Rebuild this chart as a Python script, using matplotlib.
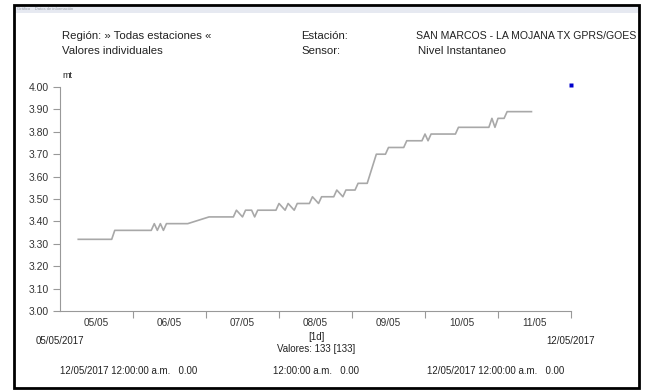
import numpy as np
import pandas as pd
import matplotlib
matplotlib.use("Agg")
import matplotlib.pyplot as plt
from matplotlib.patches import Rectangle

plt.rcParams['font.family'] = ['Liberation Sans', 'DejaVu Sans']

# nivel instantaneo, horas desde 05/05/2017 00:00
hours = [6, 17, 18, 30, 31, 32, 33, 34, 35, 42, 49, 57, 58, 60, 61, 63, 64, 65,
         71, 72, 74, 75, 77, 78, 82, 83, 85, 86, 90, 91, 93, 94, 97, 98, 101,
         104, 107, 108, 113, 114, 119, 120, 121, 122, 130, 131, 141, 142, 143,
         144, 146, 147, 155]
level = [3.32, 3.32, 3.36, 3.36, 3.39, 3.36, 3.39, 3.36, 3.39, 3.39, 3.42, 3.42,
         3.45, 3.42, 3.45, 3.45, 3.42, 3.45, 3.45, 3.48, 3.45, 3.48, 3.45, 3.48,
         3.48, 3.51, 3.48, 3.51, 3.51, 3.54, 3.51, 3.54, 3.54, 3.57, 3.57, 3.70,
         3.70, 3.73, 3.73, 3.76, 3.76, 3.79, 3.76, 3.79, 3.79, 3.82, 3.82, 3.86,
         3.82, 3.86, 3.86, 3.89, 3.89]
point_hour = [168]
point_level = [4.01]

day_labels = ['05/05', '06/05', '07/05', '08/05', '09/05', '10/05', '11/05']
yticks = [3.00, 3.10, 3.20, 3.30, 3.40, 3.50, 3.60, 3.70, 3.80, 3.90, 4.00]

t0 = pd.Timestamp('2017-05-05')
t = t0 + pd.to_timedelta(hours, unit='h')
tp = t0 + pd.to_timedelta(point_hour, unit='h')

W, H = 649, 390
fig = plt.figure(figsize=(W / 100, H / 100), dpi=100)
ax = fig.add_axes([60 / W, 1 - 311 / H, 511 / W, 224 / H])

ax.plot(t, level, color='#a8a8a8', lw=1.2)
ax.plot(tp, point_level, 's', color='#0000cc', ms=2.8, mec='none', clip_on=False)

ax.set_xlim(t0, t0 + pd.Timedelta(days=7))
ax.set_ylim(3.0, 4.0)
ax.set_yticks(yticks)
ax.set_yticklabels(['%.2f' % v for v in yticks])

major = [t0 + pd.Timedelta(days=i) for i in range(1, 8)]
minor = [t0 + pd.Timedelta(days=i, hours=12) for i in range(7)]
ax.set_xticks(major)
ax.set_xticklabels([''] * len(major))
ax.set_xticks(minor, minor=True)
ax.set_xticklabels(day_labels, minor=True)
ax.tick_params(axis='x', which='minor', length=0, pad=5, labelsize=7.2, colors='#333333')
ax.tick_params(axis='x', which='major', length=5, color='#999999')
ax.tick_params(axis='y', length=5, color='#999999', labelsize=7.5, labelcolor='#333333', pad=3)

for s in ['top', 'right']:
    ax.spines[s].set_visible(False)
for s in ['left', 'bottom']:
    ax.spines[s].set_color('#999999')
    ax.spines[s].set_linewidth(0.8)

def ftext(x, y, s, **kw):
    kw.setdefault('fontsize', 7)
    kw.setdefault('color', '#222222')
    fig.text(x / W, 1 - y / H, s, va='center', **kw)

ftext(62, 76, 'mt', fontsize=6.5)
ftext(62, 36, 'Región: » Todas estaciones «', fontsize=8.2)
ftext(62, 51, 'Valores individuales', fontsize=8.2)
ftext(301, 36, 'Estación:', fontsize=8.2)
ftext(301, 51, 'Sensor:', fontsize=8.2)
ftext(636, 36, 'SAN MARCOS - LA MOJANA TX GPRS/GOES', fontsize=7.6, ha='right')
ftext(418, 51, 'Nivel Instantaneo', fontsize=8.2)

ftext(36, 341, '05/05/2017')
ftext(595, 341, '12/05/2017', ha='right')
ftext(316, 337, '[1d]', ha='center')
ftext(316, 349, 'Valores: 133 [133]', ha='center')
ftext(60, 371, '12/05/2017 12:00:00 a.m.   0.00')
ftext(273, 371, '12:00:00 a.m.   0.00')
ftext(427, 371, '12/05/2017 12:00:00 a.m.   0.00')

# marco y barra superior
fig.patches.append(Rectangle((14 / W, 1 - 13 / H), 625 / W, 8 / H,
                             transform=fig.transFigure, facecolor='#e6e9f1',
                             edgecolor='none', zorder=0))
ftext(17, 9, 'Gráfico    Datos de información', fontsize=3, color='#9aa0aa')
fig.patches.append(Rectangle((14 / W, 1 - 388 / H), 625 / W, 383 / H,
                             transform=fig.transFigure, facecolor='none',
                             edgecolor='black', lw=2, zorder=5))

fig.savefig('out.png', dpi=100)
